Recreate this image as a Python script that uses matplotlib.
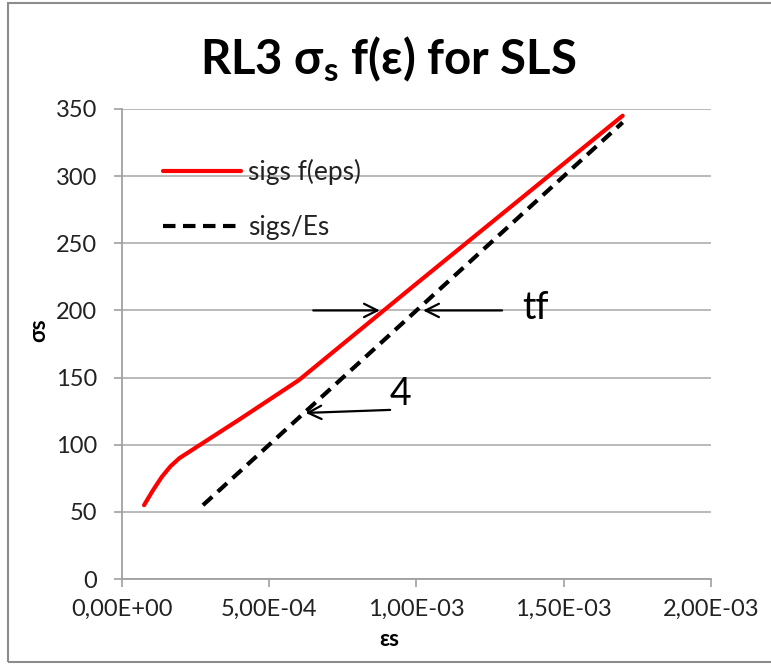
import matplotlib
matplotlib.use("Agg")
import matplotlib.pyplot as plt
from matplotlib.ticker import FuncFormatter
from matplotlib.patches import Rectangle

# strain / stress values
eps_f = [7.5e-5, 1.05e-4, 1.35e-4, 1.65e-4, 1.95e-4, 4.0e-4, 6.0e-4, 1.0e-3, 1.7e-3]
sig_f = [55, 66, 76, 84, 90, 119, 148, 220, 345]
eps_lin = [2.75e-4, 1.7e-3]
sig_lin = [55, 340]
x_ticks = [0, 5e-4, 1e-3, 1.5e-3, 2e-3]
y_ticks = [0, 50, 100, 150, 200, 250, 300, 350]

plt.rcParams['font.family'] = ['Lato', 'DejaVu Sans']

fig = plt.figure(figsize=(7.71, 6.65), dpi=100)
ax = fig.add_axes([0.1582, 0.1293, 0.764, 0.7068])

# outer chart border
fig.patches.append(Rectangle((8 / 771, 3 / 665), 1.0, 659 / 665, transform=fig.transFigure,
                             fill=False, edgecolor='#8c8c8c', linewidth=1.5))

ax.plot(eps_f, sig_f, color='#ff0000', lw=3, label='sigs f(eps)', solid_capstyle='round',
        solid_joinstyle='round')
ax.plot(eps_lin, sig_lin, color='black', lw=3, dashes=(3, 1.8), label='sigs/Es')

ax.set_xlim(0, 2e-3)
ax.set_ylim(0, 350)
ax.set_xticks(x_ticks)
ax.set_yticks(y_ticks)
ax.xaxis.set_major_formatter(FuncFormatter(lambda v, p: ('%.2E' % v).replace('.', ',')))
ax.grid(axis='y', color='#b4b4b4', lw=1.3)
ax.set_axisbelow(True)
for s in ['top', 'right']:
    ax.spines[s].set_visible(False)
for s in ['left', 'bottom']:
    ax.spines[s].set_color('#a0a0a0')
    ax.spines[s].set_linewidth(1.3)
ax.tick_params(axis='both', direction='out', length=6, color='#a0a0a0', width=1.2,
               labelsize=17, labelcolor='#222222', pad=8)
ax.tick_params(axis='y', pad=12)

leg = ax.legend(loc='upper left', bbox_to_anchor=(0.07, 0.894), frameon=False, fontsize=19,
                handlelength=2.95, handletextpad=0.25, labelspacing=1.15, borderaxespad=0,
                borderpad=0)
for t in leg.get_texts():
    t.set_color('#222222')

# annotations
arr = dict(arrowstyle='->', color='black', lw=1.6, mutation_scale=24)
ax.annotate('', xy=(8.85e-4, 200), xytext=(6.4e-4, 200), arrowprops=arr)
ax.annotate('', xy=(1.013e-3, 200), xytext=(1.30e-3, 200), arrowprops=arr)
ax.text(1.36e-3, 202, 'tf', fontsize=27, va='center', ha='left')
ax.annotate('', xy=(6.14e-4, 123.6), xytext=(9.2e-4, 126), arrowprops=arr)
ax.text(9.46e-4, 138, '4', fontsize=27, va='center', ha='center')

fig.text(0.503, 0.91, r'RL3 σ$_\mathregular{s}$ f(ε) for SLS', fontsize=34, fontweight='bold',
         ha='center', va='center')
fig.text(0.505, 0.038, 'εs', fontsize=16, fontweight='bold', ha='center', va='center')
fig.text(0.05, 0.503, 'σs', fontsize=16, fontweight='bold', ha='center', va='center', rotation=90)

fig.savefig('out.png', dpi=100)
